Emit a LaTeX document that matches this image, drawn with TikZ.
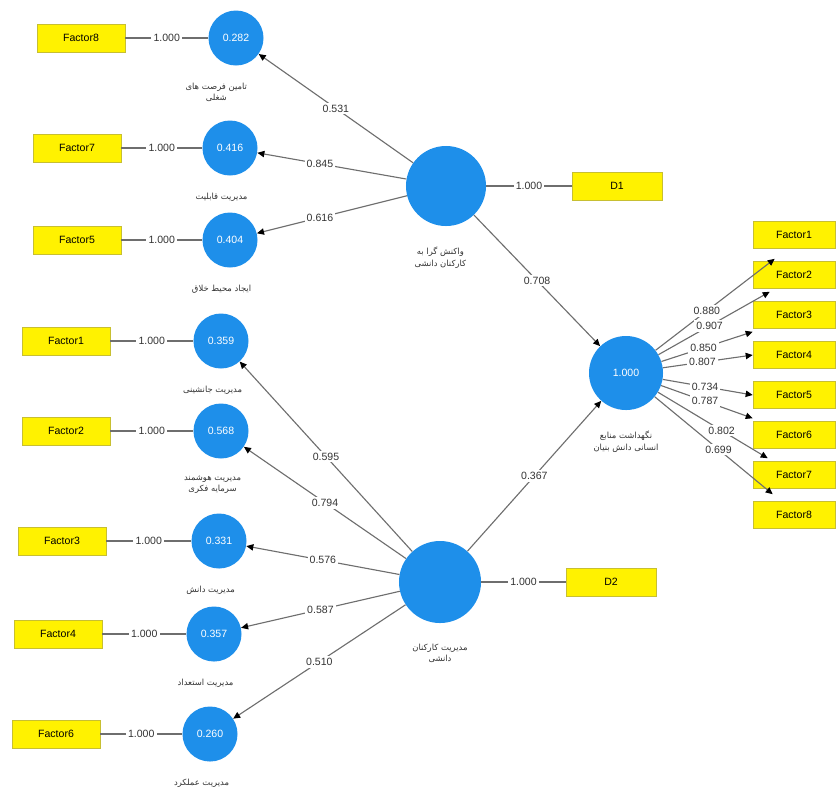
\documentclass[tikz,border=0pt]{standalone}
\usepackage{fontspec}
\setmainfont{Liberation Sans}
\newfontfamily\arabicfont[Script=Arabic]{DejaVu Sans}
\TeXXeTstate=1
\usetikzlibrary{arrows.meta, positioning, calc}
\definecolor{plsblue}{HTML}{1E8FEA}
\definecolor{plsline}{HTML}{6E6E6E}

\begin{document}
\begin{tikzpicture}[
        x=0.025cm, y=-0.025cm,
        font=\fontsize{7.5}{9}\selectfont,
        indicator/.style={draw=yellow!75!black, fill=yellow, minimum width=2.2cm, minimum height=0.7cm, inner sep=1pt},
        latent/.style={circle, fill=plsblue, text=white, minimum size=1.375cm, inner sep=0pt},
        biglatent/.style={latent, minimum size=2cm},
        weight/.style={fill=white, inner sep=1.5pt, text=black!80},
        faname/.style={font=\arabicfont\fontsize{6}{8}\selectfont, align=center, text=black!80},
        link/.style={plsline, line width=0.8pt},
        effect/.style={link, -{Triangle[length=5pt, width=4.5pt, color=black]}}
    ]
        \useasboundingbox (0,0) rectangle (839,792);

        \foreach \n/\bx/\cx/\y/\v in {8/81/236/38/0.282, 7/77/230/148/0.416, 5/77/230/240/0.404,
                1/66/221/341/0.359, 2/66/221/431/0.568, 3/62/219/541/0.331,
                4/58/214/634/0.357, 6/56/210/734/0.260} {
            \node[indicator] (lf\n) at (\bx,\y) {Factor\n};
            \node[latent] (c\n) at (\cx,\y) {\v};
            \draw[link] (lf\n) -- node[weight] {1.000} (c\n);
        }

        \node[faname, below=0.3cm of c8, xshift=-14] (n8) {\beginR تامین فرصت های\endR\\\beginR شغلی\endR};
        \node[faname, below=0.3cm of c7, xshift=-6] (n7) {\beginR مدیریت قابلیت\endR};
        \node[faname, below=0.3cm of c5, xshift=-6] (n5) {\beginR ایجاد محیط خلاق\endR};
        \node[faname, below=0.3cm of c1, xshift=-6] (n1) {\beginR مدیریت جانشینی\endR};
        \node[faname, below=0.3cm of c2, xshift=-6] (n2) {\beginR مدیریت هوشمند\endR\\\beginR سرمایه فکری\endR};
        \node[faname, below=0.3cm of c3, xshift=-6] (n3) {\beginR مدیریت دانش\endR};
        \node[faname, below=0.3cm of c4, xshift=-6] (n4) {\beginR مدیریت استعداد\endR};
        \node[faname, below=0.3cm of c6, xshift=-6] (n6) {\beginR مدیریت عملکرد\endR};

        \node[biglatent] (A) at (446,186) {};
        \node[biglatent, minimum size=2.05cm] (B) at (440,582) {};
        \node[latent, minimum size=1.85cm] (R) at (626,373) {1.000};
        \node[indicator, minimum width=2.25cm] (d1) at (617,186) {D1};
        \node[indicator, minimum width=2.25cm] (d2) at (611,582) {D2};

        \node[faname, below=0.4cm of A, xshift=-4] (nA) {\beginR واکنش گرا به\endR\\\beginR کارکنان دانشی\endR};
        \node[faname, below=0.4cm of B] (nB) {\beginR مدیریت کارکنان\endR\\\beginR دانشی\endR};
        \node[faname, below=0.4cm of R] (nR) {\beginR نگهداشت منابع\endR\\\beginR انسانی دانش بنیان\endR};

        \foreach \i in {1,...,8} {
            \node[indicator, minimum width=2.05cm, minimum height=0.675cm] (rf\i) at (794,195+40*\i) {Factor\i};
        }

        \draw[link] (A) -- node[weight] {1.000} (d1);
        \draw[link] (B) -- node[weight] {1.000} (d2);

        \draw[effect] (A) -- node[weight] {0.531} (c8);
        \draw[effect] (A) -- node[weight, pos=0.58] {0.845} (c7);
        \draw[effect] (A) -- node[weight, pos=0.58] {0.616} (c5);
        \foreach \t/\v in {1/0.595, 2/0.794, 3/0.576, 4/0.587, 6/0.510} {
            \draw[effect] (B) -- node[weight] {\v} (c\t);
        }
        \draw[effect] (A) -- node[weight] {0.708} (R);
        \draw[effect] (B) -- node[weight] {0.367} (R);

        \draw[effect] (R) -- node[weight, pos=0.43] {0.880} ($(rf1.south west)+(22,10)$);
        \draw[effect] (R) -- node[weight, pos=0.46] {0.907} ($(rf2.south west)+(17,3)$);
        \draw[effect] (R) -- node[weight, pos=0.46] {0.850} ($(rf3.south west)+(0,3)$);
        \draw[effect] (R) -- node[weight, pos=0.44] {0.807} (rf4.west);
        \draw[effect] (R) -- node[weight, pos=0.47] {0.734} (rf5.west);
        \draw[effect] (R) -- node[weight, pos=0.48] {0.787} ($(rf6.north west)+(0,-3)$);
        \draw[effect] (R) -- node[weight, pos=0.58] {0.802} ($(rf7.north west)+(15,-3)$);
        \draw[effect] (R) -- node[weight, pos=0.54] {0.699} ($(rf8.north west)+(20,-7)$);
    \end{tikzpicture}
\end{document}
